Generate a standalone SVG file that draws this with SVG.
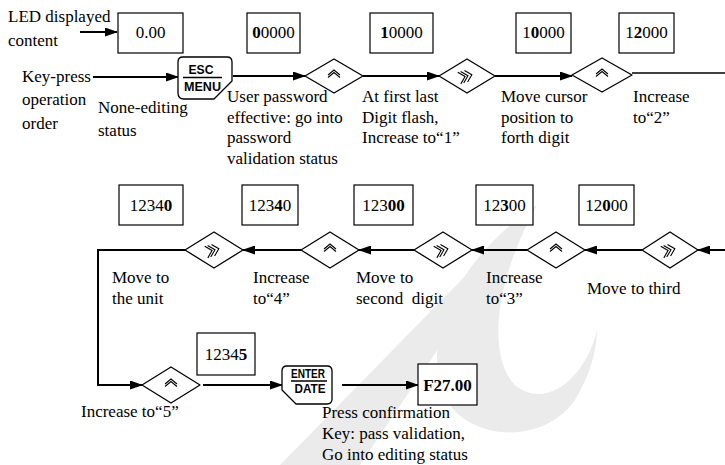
<svg xmlns="http://www.w3.org/2000/svg" width="725" height="465" viewBox="0 0 725 465">
<style>
.t{font-family:"Liberation Serif","Times New Roman",serif;font-size:17px;fill:#000}
.b{font-weight:bold}
.k{font-family:"Liberation Sans",Arial,sans-serif;font-weight:bold;font-size:12.5px;fill:#000}
.box{fill:#fff;stroke:#000;stroke-width:1.2}
.dia{fill:#fff;stroke:#000;stroke-width:1.3;stroke-linejoin:round}
.key{fill:#fff;stroke:#000;stroke-width:1.3;stroke-linejoin:round}
.ln{fill:none;stroke:#000;stroke-width:2}
.ln1{fill:none;stroke:#000;stroke-width:1.3}
.ico{fill:none;stroke:#000;stroke-width:1.1;stroke-linejoin:miter}
.wm{fill:#ebebeb;stroke:none}
</style>
<defs>
<marker id="ah" markerUnits="userSpaceOnUse" markerWidth="13" markerHeight="9" refX="12" refY="4.5" orient="auto">
<path d="M0,0 L13,4.5 L0,9 Z" fill="#000"/>
</marker>
<g id="caret">
<polyline class="ico" points="-6,-1 0,-6 6,-1"/>
<polyline class="ico" points="-6,1.5 0,-3.5 6,1.5"/>
</g>
<g id="dbl">
<g transform="rotate(-15)">
<polyline class="ico" points="-8,-6 -2,0 -8,6"/>
<polyline class="ico" points="-5,-6 1,0 -5,6"/>
<polyline class="ico" points="-1,-6 5,0 -1,6"/>
</g>
</g>
</defs>

<g id="watermark">
<path class="wm" d="M280,465 L360,465 L535,205 Z"/>
<path class="wm" d="M537,205 C470,250 425,320 440,385 C455,440 540,450 575,400 C590,375 597,350 597,330 C585,380 545,410 515,385 C490,360 490,290 537,205 Z"/>
</g>

<g id="connectors">
<line class="ln" x1="80" y1="32" x2="117" y2="32" marker-end="url(#ah)"/>
<line class="ln" x1="93" y1="77" x2="178" y2="77" marker-end="url(#ah)"/>
<line class="ln" x1="233" y1="76" x2="305" y2="76" marker-end="url(#ah)"/>
<line class="ln" x1="363" y1="76" x2="439" y2="76" marker-end="url(#ah)"/>
<line class="ln" x1="495" y1="76" x2="572" y2="76" marker-end="url(#ah)"/>
<line class="ln1" x1="632" y1="73" x2="725" y2="73"/>
<line class="ln" x1="725" y1="250" x2="698" y2="250" marker-end="url(#ah)"/>
<line class="ln" x1="642" y1="250" x2="585" y2="250" marker-end="url(#ah)"/>
<line class="ln" x1="527" y1="250" x2="472" y2="250" marker-end="url(#ah)"/>
<line class="ln" x1="414" y1="250" x2="359" y2="250" marker-end="url(#ah)"/>
<line class="ln" x1="301" y1="250" x2="243" y2="250" marker-end="url(#ah)"/>
<polyline class="ln" points="185,250 98,250 98,385 142,385" marker-end="url(#ah)"/>
<line class="ln" x1="203" y1="385" x2="282" y2="385" marker-end="url(#ah)"/>
<line class="ln" x1="342" y1="385" x2="418" y2="385" marker-end="url(#ah)"/>
</g>

<g id="labels">
<text class="t" x="8" y="22">LED displayed</text>
<text class="t" x="8" y="46">content</text>
<text class="t" x="22" y="82">Key-press</text>
<text class="t" x="22" y="105">operation</text>
<text class="t" x="22" y="129">order</text>
<text class="t" x="98" y="113">None-editing</text>
<text class="t" x="98" y="136">status</text>
<text class="t" x="227"><tspan x="227" y="102">User password</tspan><tspan x="227" y="122.5">effective: go into</tspan><tspan x="227" y="143">password</tspan><tspan x="227" y="163.5">validation status</tspan></text>
<text class="t" x="362"><tspan x="362" y="102">At first last</tspan><tspan x="362" y="122.5">Digit flash,</tspan><tspan x="362" y="143">Increase to“1”</tspan></text>
<text class="t" x="501"><tspan x="501" y="102">Move cursor</tspan><tspan x="501" y="122.5">position to</tspan><tspan x="501" y="143">forth digit</tspan></text>
<text class="t" x="633"><tspan x="633" y="102">Increase</tspan><tspan x="633" y="122.5">to“2”</tspan></text>
<text class="t" x="112"><tspan x="112" y="283">Move to</tspan><tspan x="112" y="304">the unit</tspan></text>
<text class="t" x="253"><tspan x="253" y="283">Increase</tspan><tspan x="253" y="304">to“4”</tspan></text>
<text class="t" x="356" xml:space="preserve"><tspan x="356" y="283">Move to</tspan><tspan x="356" y="304">second  digit</tspan></text>
<text class="t" x="486"><tspan x="486" y="283">Increase</tspan><tspan x="486" y="304">to“3”</tspan></text>
<text class="t" x="587" y="294">Move to third</text>
<text class="t" x="81" y="417">Increase to“5”</text>
<text class="t" x="322"><tspan x="322" y="418">Press confirmation</tspan><tspan x="322" y="439">Key: pass validation,</tspan><tspan x="322" y="460">Go into editing status</tspan></text>
</g>

<g id="led-0">
<rect class="box" x="118" y="13" width="65" height="40"/>
<text class="t" x="150.5" y="38" text-anchor="middle">0.00</text>
</g>
<g id="led-1">
<rect class="box" x="247" y="13" width="53" height="40"/>
<text class="t" x="273.5" y="38" text-anchor="middle"><tspan class="b">0</tspan>0000</text>
</g>
<g id="led-2">
<rect class="box" x="370" y="13" width="63" height="40"/>
<text class="t" x="401.5" y="38" text-anchor="middle"><tspan class="b">1</tspan>0000</text>
</g>
<g id="led-3">
<rect class="box" x="516" y="13" width="55" height="40"/>
<text class="t" x="543.5" y="38" text-anchor="middle">1<tspan class="b">0</tspan>000</text>
</g>
<g id="led-4">
<rect class="box" x="619" y="13" width="55" height="40"/>
<text class="t" x="646.5" y="38" text-anchor="middle">1<tspan class="b">2</tspan>000</text>
</g>
<g id="led-5">
<rect class="box" x="579" y="185" width="55" height="40"/>
<text class="t" x="606.5" y="211" text-anchor="middle">12<tspan class="b">0</tspan>00</text>
</g>
<g id="led-6">
<rect class="box" x="476" y="185" width="57" height="40"/>
<text class="t" x="504.5" y="211" text-anchor="middle">12<tspan class="b">3</tspan>00</text>
</g>
<g id="led-7">
<rect class="box" x="354" y="185" width="59" height="40"/>
<text class="t" x="383.5" y="211" text-anchor="middle">123<tspan class="b">00</tspan></text>
</g>
<g id="led-8">
<rect class="box" x="242" y="185" width="56" height="40"/>
<text class="t" x="270" y="211" text-anchor="middle">123<tspan class="b">4</tspan>0</text>
</g>
<g id="led-9">
<rect class="box" x="119" y="185" width="64" height="40"/>
<text class="t" x="151" y="211" text-anchor="middle">1234<tspan class="b">0</tspan></text>
</g>
<g id="led-10">
<rect class="box" x="197" y="333" width="58" height="42"/>
<text class="t" x="226" y="360" text-anchor="middle">1234<tspan class="b">5</tspan></text>
</g>
<g id="led-11">
<rect class="box" x="418" y="364" width="59" height="41"/>
<text class="t b" x="447.5" y="391" text-anchor="middle">F27.00</text>
</g>

<g id="key-esc">
<path class="key" d="M178,62 Q178,57 183,57 L227,57 Q232,57 232,62 L232,81 L214,99 L184,99 Q178,99 178,93 Z"/>
<text class="k" x="201" y="74" text-anchor="middle" textLength="25" lengthAdjust="spacingAndGlyphs">ESC</text>
<line x1="183" y1="77.5" x2="222" y2="77.5" stroke="#000" stroke-width="1.6"/>
<text class="k" x="202.5" y="91" text-anchor="middle" textLength="37" lengthAdjust="spacingAndGlyphs">MENU</text>
</g>
<g id="key-enter">
<path class="key" d="M282,371 Q282,366 287,366 L327,366 Q332,366 332,371 L332,399 Q332,404 327,404 L296,404 L282,390 Z"/>
<text class="k" x="308" y="378" text-anchor="middle" font-size="11" textLength="34" lengthAdjust="spacingAndGlyphs">ENTER</text>
<line x1="291" y1="381" x2="327" y2="381" stroke="#000" stroke-width="1.4"/>
<text class="k" x="310" y="393" text-anchor="middle" font-size="11" textLength="31" lengthAdjust="spacingAndGlyphs">DATE</text>
</g>

<g id="d1"><polygon class="dia" points="305,76 334,59 363,76 334,93"/><use href="#caret" x="334" y="76"/></g>
<g id="d2"><polygon class="dia" points="439,76 467,59 495,76 467,93"/><use href="#dbl" x="467" y="76"/></g>
<g id="d3"><polygon class="dia" points="572,75 602,58 632,75 602,92"/><use href="#caret" x="602" y="75"/></g>
<g id="d4"><polygon class="dia" points="642,250 670,232 698,250 670,268"/><use href="#dbl" x="670" y="250"/></g>
<g id="d5"><polygon class="dia" points="527,250 556,232 585,250 556,268"/><use href="#caret" x="556" y="250"/></g>
<g id="d6"><polygon class="dia" points="414,250 443,232 472,250 443,268"/><use href="#dbl" x="443" y="250"/></g>
<g id="d7"><polygon class="dia" points="301,250 330,232 359,250 330,268"/><use href="#caret" x="330" y="250"/></g>
<g id="d8"><polygon class="dia" points="185,250 214,232 243,250 214,268"/><use href="#dbl" x="214" y="250"/></g>
<g id="d9"><polygon class="dia" points="142,385 171,367 200,385 171,403"/><use href="#caret" x="171" y="385"/></g>
</svg>
